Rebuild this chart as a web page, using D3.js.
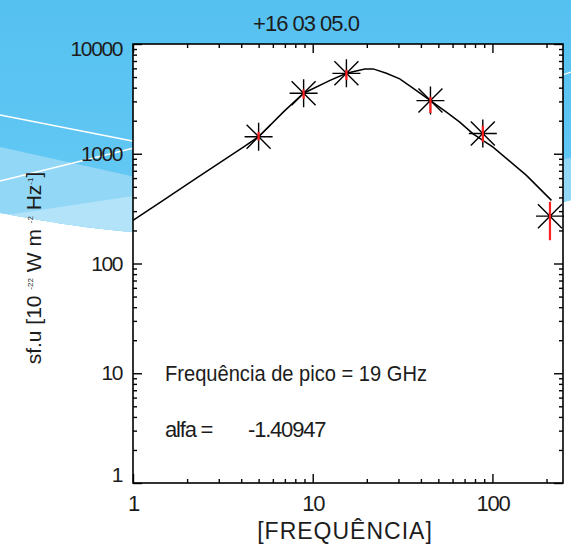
<!DOCTYPE html>
<html><head>
<meta charset="utf-8">
<title>Espectro +16 03 05.0</title>
<script src="https://d3js.org/d3.v7.min.js"></script>
<style>
  body { margin: 0; background: #fff; }
  svg text { font-family: "Liberation Sans", Arial, sans-serif; fill: #1c1c1c; }
  .axis .domain { stroke: none; }
  .axis line { stroke: #000; stroke-width: 1.4px; }
  .frame { fill: #fff; stroke: #000; stroke-width: 1.6px; }
  .fit { fill: none; stroke: #000; stroke-width: 1.5px; }
  .star { stroke: #000; stroke-width: 1.4px; fill: none; }
  .err { stroke: #ff1f1f; stroke-width: 2.2px; }
</style>
</head>
<body>
<svg id="chart" width="571" height="545"></svg>

<script>
// observed points (GHz, sfu) and the red error bar ends
const freq    = [5.0, 8.9, 15.4, 45.2, 88.4, 209];
const flux    = [1430, 3560, 5400, 3050, 1530, 270];
const errLow  = [1320, 3160, 4700, 2350, 1280, 163];
const errHigh = [1580, 3860, 5830, 3300, 1800, 365];

// fitted spectrum
const fitFreq = [1.0, 1.43, 2.2, 3.37, 4.17, 5.02, 6.9, 8.9, 12.4, 15.4, 19.5, 21.7, 25.7, 30.5, 37.8, 45.2, 55.5, 65.8, 78, 100.8, 154.6, 213];
const fitFlux = [247, 365, 585, 925, 1165, 1437, 2420, 3560, 4640, 5410, 5930, 5930, 5410, 4810, 3760, 3050, 2390, 1940, 1520, 1150, 635, 376];

const xTicks = [1, 10, 100];
const yTicks = [1, 10, 100, 1000, 10000];
const title = "+16 03 05.0";
const peakText = "Frequência de pico = 19 GHz";
const alfaValue = "-1.40947";

const svg = d3.select("#chart");
const W = +svg.attr("width");
const pLeft = 133, pRight = 563, pTop = 44, pBottom = 483;

// ---- slide background (blue swoosh) ----
const defs = svg.append("defs");
const grad = defs.append("linearGradient").attr("id", "bg").attr("x1", 0).attr("y1", 0).attr("x2", 0).attr("y2", 1);
grad.append("stop").attr("offset", "0%").attr("stop-color", "#55c1f1");
grad.append("stop").attr("offset", "100%").attr("stop-color", "#68caf4");
const swoosh = "M0,0 H" + W + " V200 C450,236 250,242 133,232 C80,228 40,220 0,213 Z";
defs.append("clipPath").attr("id", "sw").append("path").attr("d", swoosh);

const bg = svg.append("g").attr("clip-path", "url(#sw)");
bg.append("rect").attr("width", W).attr("height", 260).attr("fill", "url(#bg)");
bg.append("path").attr("d", "M0,147 L140,178 L140,250 L0,250 Z").attr("fill", "#93d7f6");
bg.append("path").attr("d", "M0,216 L140,195 L140,250 L0,250 Z").attr("fill", "#b2e3f9");
bg.append("path").attr("d", "M555,160 L571,158 L571,250 L555,250 Z").attr("fill", "#93d7f6");
bg.append("path").attr("d", "M0,115 L140,142.5 M0,181 L140,146.5 M556,77 L571,72")
  .attr("stroke", "#fff").attr("stroke-width", 1.3).attr("fill", "none");

// ---- scales ----
const x = d3.scaleLog().domain([1, 247]).range([pLeft, pRight]);
const y = d3.scaleLog().domain([1, 10000]).range([pBottom, pTop]);

const minorX = [];
[1, 10, 100].forEach(d => { for (let k = 2; k <= 9; k++) if (d * k < 247) minorX.push(d * k); });
const minorY = [];
[1, 10, 100, 1000].forEach(d => { for (let k = 2; k <= 9; k++) minorY.push(d * k); });

svg.append("rect").attr("class", "frame")
  .attr("x", pLeft).attr("y", pTop).attr("width", pRight - pLeft).attr("height", pBottom - pTop);

// ---- axes, ticks point into the box ----
const xAxis = svg.append("g").attr("class", "axis").attr("transform", "translate(0," + pBottom + ")")
  .call(d3.axisBottom(x).tickValues(xTicks).tickFormat(d3.format("d")).tickSizeInner(-9).tickSizeOuter(0).tickPadding(12));
xAxis.append("g").call(d3.axisBottom(x).tickValues(minorX).tickFormat("").tickSizeInner(-4).tickSizeOuter(0));
xAxis.selectAll("text").style("font-size", "22px").style("letter-spacing", "-1.2px").attr("fill", "#1c1c1c");

const xTop = svg.append("g").attr("class", "axis").attr("transform", "translate(0," + pTop + ")")
  .call(d3.axisTop(x).tickValues(xTicks).tickFormat("").tickSizeInner(-9).tickSizeOuter(0));
xTop.append("g").call(d3.axisTop(x).tickValues(minorX).tickFormat("").tickSizeInner(-4).tickSizeOuter(0));

const yAxis = svg.append("g").attr("class", "axis").attr("transform", "translate(" + pLeft + ",0)")
  .call(d3.axisLeft(y).tickValues(yTicks).tickFormat(d3.format("d")).tickSizeInner(-9).tickSizeOuter(0).tickPadding(11));
yAxis.append("g").call(d3.axisLeft(y).tickValues(minorY).tickFormat("").tickSizeInner(-4).tickSizeOuter(0));
yAxis.selectAll("text").style("font-size", "21px").style("letter-spacing", "-1.4px").attr("fill", "#1c1c1c");
// end labels are pulled inside the box like in the original
yAxis.selectAll(".tick text").filter(d => d === 10000).attr("y", 5);
yAxis.selectAll(".tick text").filter(d => d === 1).attr("y", -8);

const yRight = svg.append("g").attr("class", "axis").attr("transform", "translate(" + pRight + ",0)")
  .call(d3.axisRight(y).tickValues(yTicks).tickFormat("").tickSizeInner(-9).tickSizeOuter(0));
yRight.append("g").call(d3.axisRight(y).tickValues(minorY).tickFormat("").tickSizeInner(-4).tickSizeOuter(0));

// ---- fitted curve ----
const fit = fitFreq.map((f, i) => [f, fitFlux[i]]);
svg.append("path").datum(fit).attr("class", "fit")
  .attr("d", d3.line().x(d => x(d[0])).y(d => y(d[1])));

// ---- asterisk markers + error bars ----
const pts = freq.map((f, i) => ({ f: f, v: flux[i], lo: errLow[i], hi: errHigh[i] }));
const r = 14, rd = 12;
svg.append("g").selectAll("path").data(pts).join("path")
  .attr("class", "star")
  .attr("d", d => {
    const cx = x(d.f), cy = y(d.v);
    return "M" + (cx - r) + "," + cy + "H" + (cx + r) +
           "M" + cx + "," + (cy - r) + "V" + (cy + r) +
           "M" + (cx - rd) + "," + (cy - rd) + "L" + (cx + rd) + "," + (cy + rd) +
           "M" + (cx - rd) + "," + (cy + rd) + "L" + (cx + rd) + "," + (cy - rd);
  });
svg.append("g").selectAll("line").data(pts).join("line")
  .attr("class", "err")
  .attr("x1", d => x(d.f)).attr("x2", d => x(d.f))
  .attr("y1", d => y(d.hi)).attr("y2", d => y(d.lo));

// ---- texts ----
svg.append("text").attr("x", 306).attr("y", 31).attr("text-anchor", "middle")
  .style("font-size", "22px").style("letter-spacing", "-1px").text(title);

svg.append("text").attr("x", 345).attr("y", 539).attr("text-anchor", "middle")
  .style("font-size", "23px").style("letter-spacing", "1px").text("[FREQUÊNCIA]");

const yt = svg.append("text").attr("transform", "translate(41,268) rotate(-90)")
  .attr("text-anchor", "middle").style("font-size", "21px");
yt.append("tspan").text("sf.u [10 ");
yt.append("tspan").attr("dy", -8).style("font-size", "8px").text("-22");
yt.append("tspan").attr("dy", 8).text(" W m ");
yt.append("tspan").attr("dy", -8).style("font-size", "8px").text("-2");
yt.append("tspan").attr("dy", 8).text(" Hz");
yt.append("tspan").attr("dy", -8).style("font-size", "8px").text("-1");
yt.append("tspan").attr("dy", 8).text("]");

svg.append("text").attr("x", 165).attr("y", 381)
  .attr("textLength", 262).attr("lengthAdjust", "spacingAndGlyphs")
  .style("font-size", "22px").text(peakText);
const alfa = svg.append("text").attr("y", 437).style("font-size", "22px").style("letter-spacing", "-1.2px");
alfa.append("tspan").attr("x", 165).text("alfa =");
alfa.append("tspan").attr("x", 248).text(alfaValue);
</script>
</body></html>
